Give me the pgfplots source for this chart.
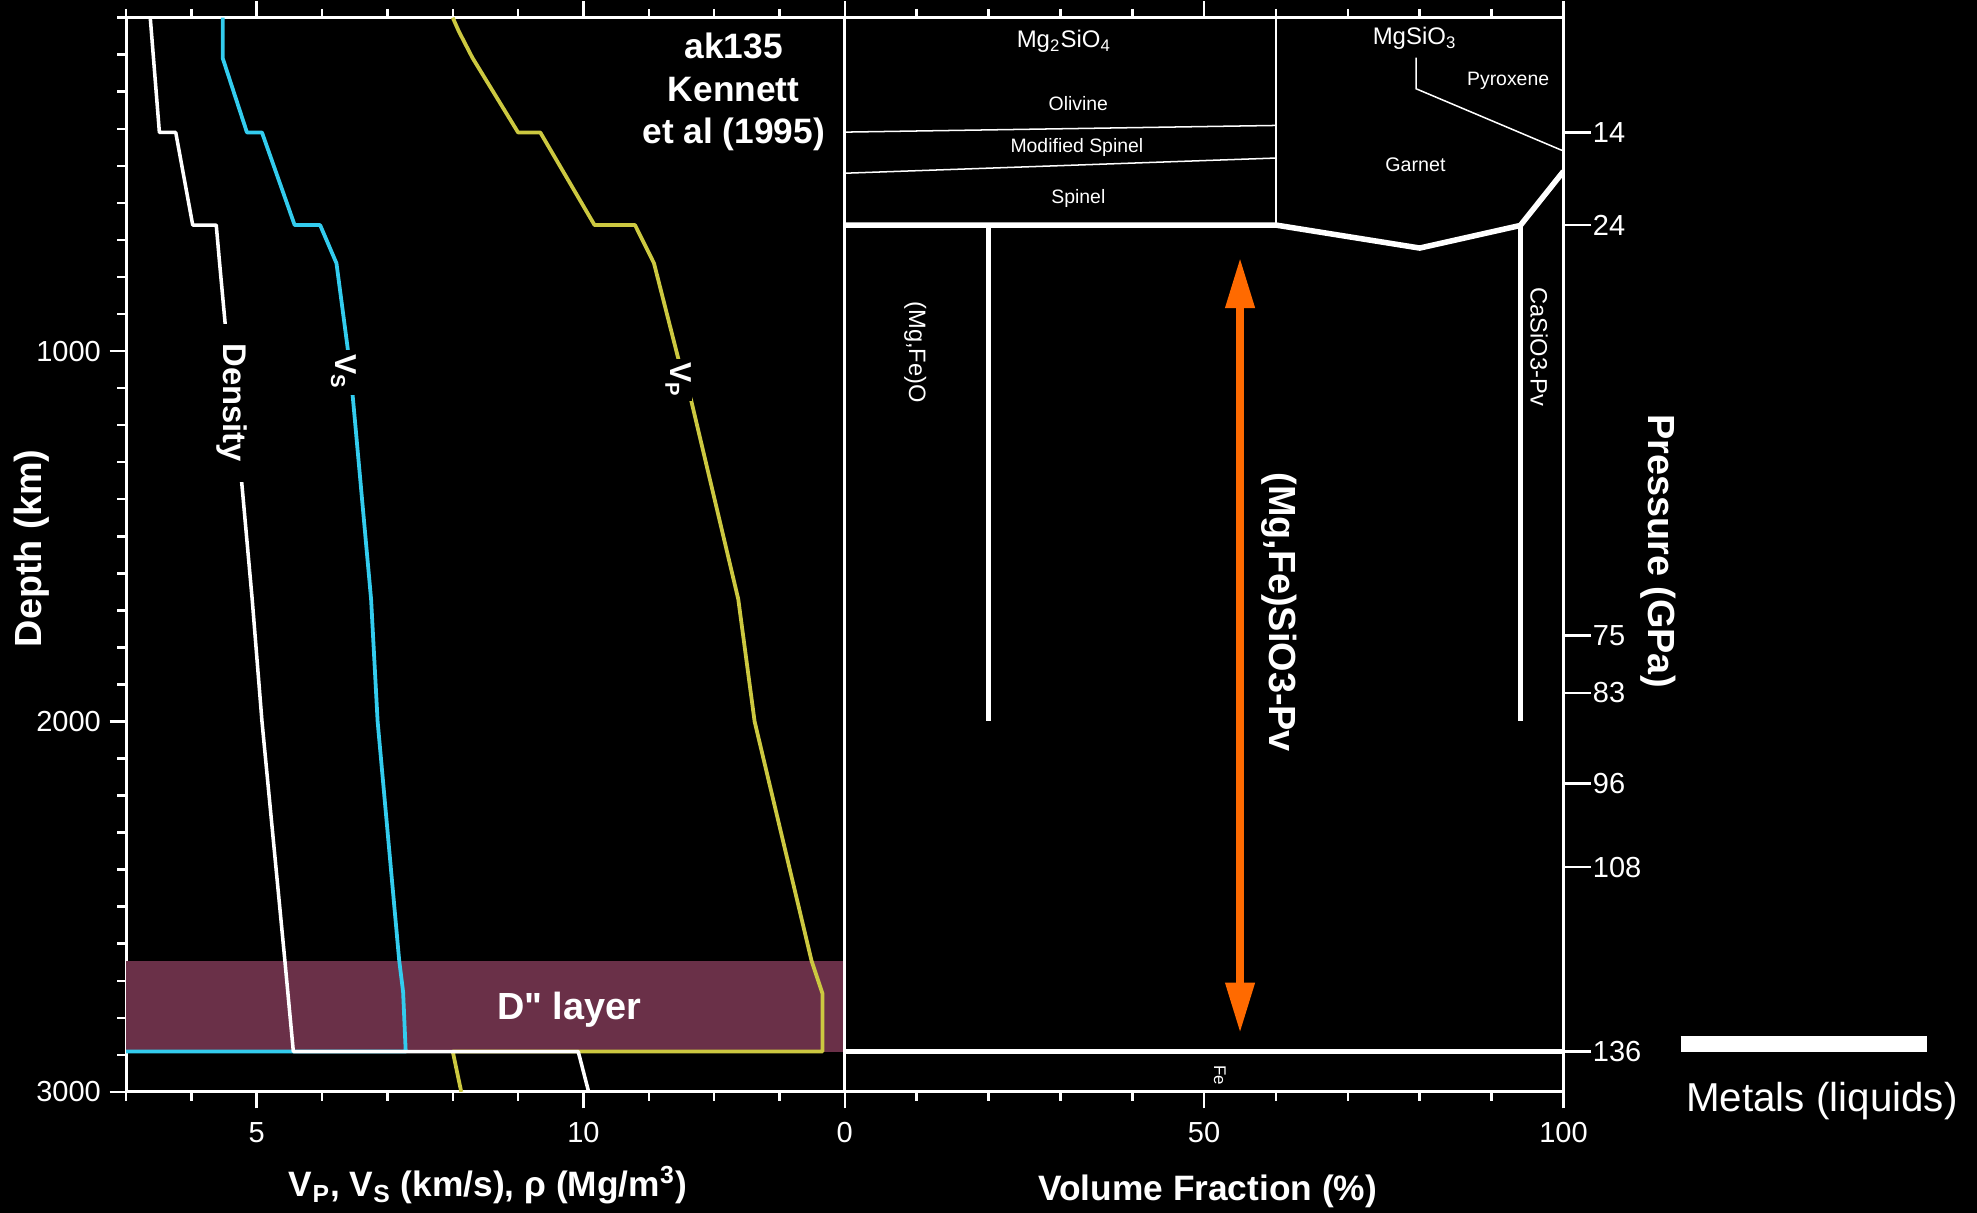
\documentclass[border=0pt]{standalone}
\usepackage{fontspec}
\setmainfont{Liberation Sans}
\newfontfamily\rawsans[Ligatures=TeXOff]{Liberation Sans}
\usepackage{pgfplots}
\pgfplotsset{compat=1.18}
\usetikzlibrary{arrows.meta}
\definecolor{vscol}{RGB}{51,204,238}
\definecolor{vpcol}{RGB}{204,200,64}
\definecolor{dppcol}{RGB}{106,48,72}
\definecolor{arrcol}{RGB}{255,106,0}
\begin{document}
\begin{tikzpicture}[every node/.append style={text=white}]
\fill[black] (0,0) rectangle (784pt,481pt);
\pgfplotsset{
  panel/.style={
    scale only axis, width=285pt, height=426pt,
    anchor=south west,
    y dir=reverse, ymin=100, ymax=3000,
    axis line style={white, line width=1.2pt},
    tick style={white, line width=1pt},
    tick align=outside,
    major tick length=6.5pt, minor tick length=3.5pt,
    tick label style={white, font=\fontsize{11.5}{13}\selectfont},
    xticklabel style={yshift=-2pt},
    label style={white},
  }
}
% ---------------- left panel ----------------
\begin{axis}[panel, at={(50pt,48pt)},
  xmin=3, xmax=14,
  xtick={5,10}, xticklabels={5,10},
  minor xtick={3,4,6,7,8,9,11,12,13,14},
  ytick={1000,2000,3000}, yticklabels={1000,2000,3000},
  minor ytick={100,200,300,400,500,600,700,800,900,1100,1200,1300,1400,1500,1600,1700,1800,1900,2100,2200,2300,2400,2500,2600,2700,2800,2900},
  ytick pos=left,
  xlabel={V\textsubscript{P}, V\textsubscript{S} (km/s), ρ (Mg/m\textsuperscript{3})},
  xlabel style={font=\bfseries\fontsize{14}{16}\selectfont, at={(axis description cs:0.5035,-0.0869)}, anchor=center},
  ylabel={Depth (km)},
  ylabel style={font=\bfseries\fontsize{15}{18}\selectfont, at={(axis description cs:-0.1316,0.506)}, anchor=center},
]
\addplot[fill=dppcol, draw=none] coordinates {(3,2646) (14,2646) (14,2891) (3,2891)} -- cycle;
% Vp
\addplot[vpcol, line width=1.5pt, line join=round] coordinates {
 (8.0,100) (8.09,136) (8.3,208) (9.0,410) (9.34,410) (10.17,660) (10.79,660)
 (11.08,763) (11.46,1026) (11.65,1134) (12.37,1670) (12.62,2000) (13.49,2645)
 (13.66,2735) (13.66,2891) (8.0,2891) (8.13,3000)};
% Vs
\addplot[vscol, line width=1.5pt, line join=round] coordinates {
 (4.48,100) (4.48,210) (4.85,410) (5.08,410) (5.58,660) (5.97,660) (6.22,763)
 (6.39,990) (6.47,1124) (6.75,1670) (6.85,2000) (7.18,2645) (7.24,2730)
 (7.28,2891) (0,2891)};
% Density
\addplot[white, line width=1.4pt, line join=round] coordinates {
 (3.37,100) (3.51,410) (3.76,410) (4.02,660) (4.38,660) (4.43,760) (4.52,933)
 (4.77,1355) (4.93,1670) (5.08,2000) (5.43,2645) (5.56,2891) (9.92,2891) (10.08,3000)};
\node[fill=black, rotate=-90, inner xsep=8pt, inner ysep=1pt, font=\bfseries\fontsize{13}{15}\selectfont] at (axis cs:4.62,1140) {Density};
\node[fill=black, rotate=-90, inner xsep=2pt, inner ysep=0.5pt, font=\bfseries\fontsize{12}{14}\selectfont] at (axis cs:6.33,1057) {V\textsubscript{S}};
\node[fill=black, rotate=-90, inner xsep=1.5pt, inner ysep=0.5pt, font=\bfseries\fontsize{12}{14}\selectfont] at (axis cs:11.45,1078) {V\textsubscript{P}};
\node[align=center, font=\bfseries\fontsize{14}{16.75}\selectfont] at (axis cs:12.30,301) {ak135\\Kennett\\et al (1995)};
\node[font=\rawsans\bfseries\fontsize{15}{18}\selectfont] at (axis cs:9.78,2778) {D" layer};
\end{axis}
% ---------------- right panel ----------------
\begin{axis}[panel, at={(335pt,48pt)},
  xmin=0, xmax=100,
  xtick={0,50,100}, xticklabels={0,50,100},
  minor xtick={10,20,30,40,60,70,80,90},
  ytick=\empty,
  xlabel={Volume Fraction (\%)},
  xlabel style={font=\bfseries\fontsize{14}{16}\selectfont, at={(axis description cs:0.505,-0.0927)}, anchor=center},
]
\addplot[white, line width=0.6pt] coordinates {(0,409) (60,391)};
\addplot[white, line width=0.6pt] coordinates {(0,520) (60,479)};
\addplot[white, line width=0.7pt] coordinates {(60,100) (60,660)};
\addplot[white, line width=0.6pt] coordinates {(79.5,208) (79.5,292) (100,460)};
\addplot[white, line width=2.2pt, line join=round] coordinates {(0,660) (60,660) (80,722) (94,661) (100,515)};
\addplot[white, line width=2pt] coordinates {(20,660) (20,2000)};
\addplot[white, line width=2pt] coordinates {(94,661) (94,2000)};
\addplot[white, line width=2.2pt] coordinates {(0,2891) (100,2891)};
\addplot[draw=arrcol, line width=3.2pt, arrows={Triangle[width=11pt,length=20pt]-Triangle[width=11pt,length=20pt]}] coordinates {(55,748) (55,2841)};
\node[font=\fontsize{9.5}{11}\selectfont] at (axis cs:30.5,165) {Mg\textsubscript{2}SiO\textsubscript{4}};
\node[font=\fontsize{9.5}{11}\selectfont] at (axis cs:79.3,155) {MgSiO\textsubscript{3}};
\node[font=\fontsize{7.7}{9}\selectfont] at (axis cs:32.5,331) {Olivine};
\node[font=\fontsize{7.7}{9}\selectfont] at (axis cs:32.3,450) {Modified Spinel};
\node[font=\fontsize{7.7}{9}\selectfont] at (axis cs:32.5,589) {Spinel};
\node[font=\fontsize{7.8}{9}\selectfont] at (axis cs:79.4,496) {Garnet};
\node[font=\fontsize{7.7}{9}\selectfont] at (axis cs:92.3,270) {Pyroxene};
\node[rotate=-90, font=\fontsize{9.4}{11}\selectfont] at (axis cs:9.8,1003) {(Mg,Fe)O};
\node[rotate=-90, font=\fontsize{9.4}{11}\selectfont] at (axis cs:96.6,988) {CaSiO3-Pv};
\node[rotate=-90, font=\bfseries\fontsize{15}{18}\selectfont] at (axis cs:60.4,1705) {(Mg,Fe)SiO3-Pv};
\node[rotate=-90, font=\fontsize{6.7}{8}\selectfont] at (axis cs:52.2,2955) {Fe};
\end{axis}
% ---------------- pressure axis ----------------
\begin{axis}[scale only axis, width=285pt, height=426pt, at={(335pt,48pt)}, anchor=south west,
  xmin=0, xmax=100, y dir=reverse, ymin=100, ymax=3000,
  hide x axis, axis y line*=right,
  axis line style={white, line width=1.2pt},
  ytick={410,660,1768,1923,2168,2393,2891},
  yticklabels={14,24,75,83,96,108,136},
  tick align=outside, major tick length=11pt,
  tick style={white, line width=1pt},
  yticklabel style={white, font=\fontsize{11.5}{13}\selectfont, inner sep=0.5pt},
  ylabel={Pressure (GPa)},
  ylabel style={white, font=\bfseries\fontsize{15}{18}\selectfont, at={(axis description cs:1.1316,0.5035)}, anchor=center, rotate=180},
]
\addplot[draw=none] coordinates {(0,100) (100,3000)};
\end{axis}
% legend-like key for metals
\draw[white, line width=6pt] (666.5pt,67pt) -- (764pt,67pt);
\node[font=\fontsize{16}{19}\selectfont] at (722.5pt,44.5pt) {Metals (liquids)};
\pgfresetboundingbox
\path[use as bounding box] (0,0) rectangle (784pt,481pt);
\end{tikzpicture}
\end{document}
